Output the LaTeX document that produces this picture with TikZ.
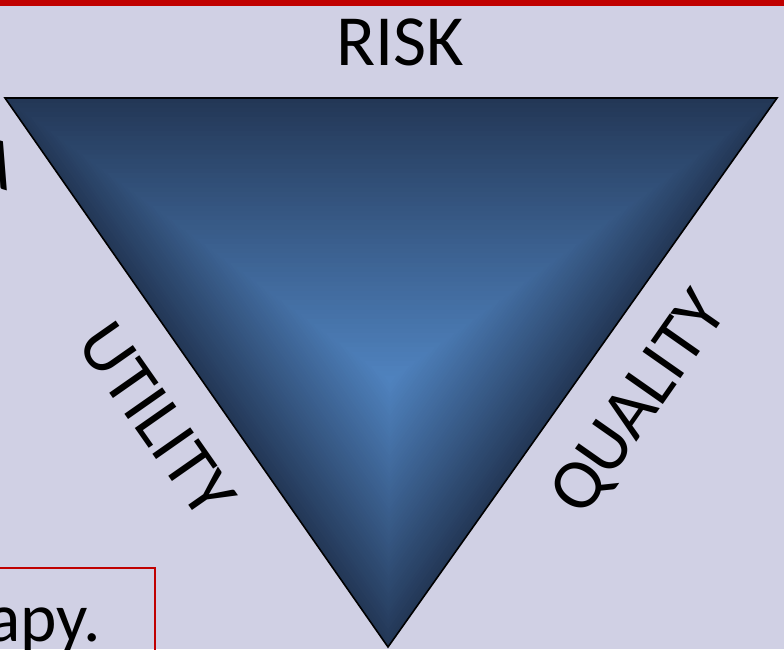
\documentclass[tikz,border=0pt]{standalone}
\usepackage{fontspec}
\setmainfont{Carlito}
\usetikzlibrary{calc}

\definecolor{slidebg}{HTML}{D0D0E4}
\definecolor{slidered}{HTML}{C00000}
\definecolor{tridark}{HTML}{233756}
\definecolor{trilight}{HTML}{4F82BE}

\begin{document}
\begin{tikzpicture}[x=0.75pt,y=-0.75pt,
		side/.style={font=\fontsize{54}{62}\selectfont,inner sep=0pt},
		note/.style={font=\fontsize{52}{60}\selectfont,inner sep=0pt}]
		\useasboundingbox (0,0) rectangle (784,649);% size of the slide crop
		\fill[slidebg] (0,0) rectangle (784,649);
		\fill[slidered] (0,0) rectangle (784,6);
		\clip (0,0) rectangle (784,649);

		\coordinate (TL) at (5,98);
		\coordinate (TR) at (777,98);
		\coordinate (B) at (388,647);
		\coordinate (C) at (390,380);% lightest spot

		% triangle with a gradient running in from its edges
		\foreach \i in {0,...,59}{
			\pgfmathsetmacro\s{1-\i/60}
			\pgfmathsetmacro\t{100*(\i/59)^0.95}
			\fill[trilight!\t!tridark] ($(C)!\s!(TL)$) -- ($(C)!\s!(TR)$) -- ($(C)!\s!(B)$) -- cycle;
		}
		\draw[line width=1.2pt, line join=miter] (TL) -- (TR) -- (B) -- cycle;

		% labels
		\node[side, anchor=base] (risk) at (400,66) {RISK};
		\node[side, rotate=-55] (utility) at ($(TL)!0.5!(B)+(-40,47)$) {UTILITY};
		\node[side, rotate=55] (quality) at ($(TR)!0.5!(B)+(58,32)$) {QUALITY};

		% cut-off pieces at the slide edges
		\node[side, rotate=-16, anchor=base east] (cutA) at (8,191) {A};
		\draw[slidered, line width=1.1pt] (-10,568) -- (155,568) -- (155,660);
		\node[note, anchor=base east] (apy) at (101,641) {apy.};
	\end{tikzpicture}
\end{document}
